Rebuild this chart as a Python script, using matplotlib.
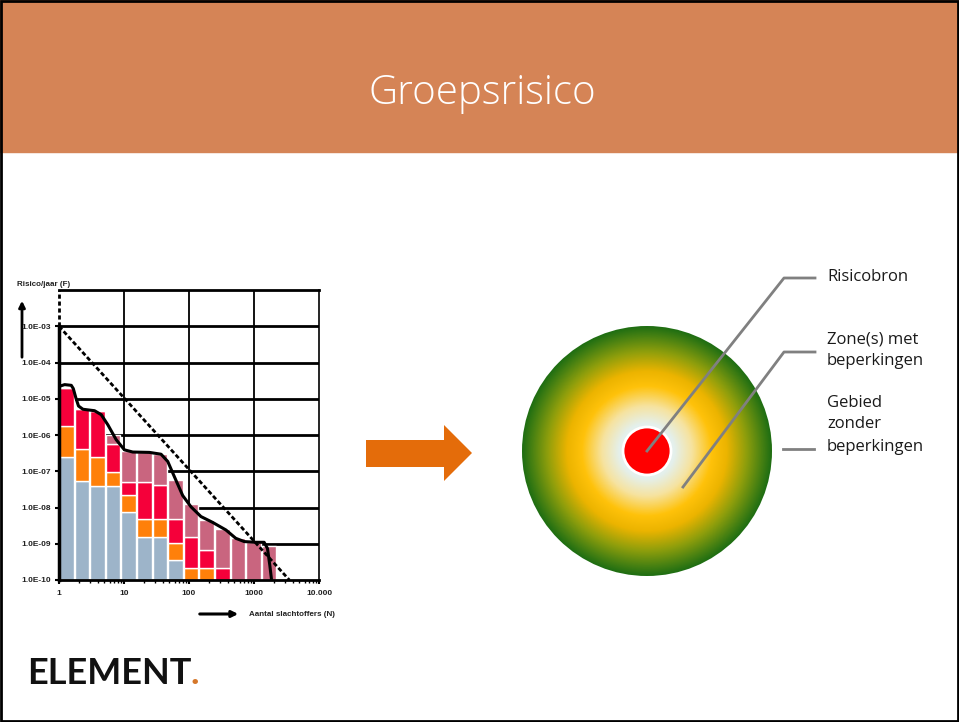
import numpy as np
import matplotlib
matplotlib.use("Agg")
from matplotlib import pyplot as plt
from matplotlib.patches import Rectangle, Circle, Polygon
from matplotlib.colors import LinearSegmentedColormap
from matplotlib.ticker import FixedLocator, LogLocator, NullFormatter

# ---- data read from the FN-curve (log10 values) ----
bin_start = [0.0, 0.24, 0.48, 0.72, 0.96, 1.20, 1.44, 1.68, 1.92, 2.16, 2.40, 2.64, 2.88, 3.12]
bin_width = 0.225
# tops of each stacked layer (log10 F); bottom of the chart is -10
blauw  = [-6.62, -7.27, -7.42, -7.42, -8.13, -8.81, -8.81, -9.45, -10.0, -10.0, -10.0, -10.0, -10.0, -10.0]
oranje = [-5.76, -6.39, -6.61, -7.03, -7.65, -8.32, -8.32, -8.99, -9.66, -9.66, -10.0, -10.0, -10.0, -10.0]
rood   = [-4.70, -5.29, -5.35, -6.25, -7.30, -7.29, -7.38, -8.32, -8.81, -9.18, -9.68, -10.0, -10.0, -10.0]
roze   = [-4.70, -5.29, -5.35, -6.00, -6.44, -6.48, -6.53, -7.24, -7.90, -8.35, -8.58, -8.85, -8.94, -9.06]

curve_logN = [0, 0.087, 0.189, 0.22, 0.26, 0.30, 0.368, 0.547, 0.65, 0.752, 0.88, 1.007, 1.135,
              1.391, 1.57, 1.673, 1.775, 1.903, 2.03, 2.184, 2.363, 2.568, 2.72, 2.85,
              3.03, 3.156, 3.207, 3.243, 3.27]
curve_logF = [-4.66, -4.61, -4.63, -4.72, -4.98, -5.20, -5.29, -5.33, -5.44, -5.72, -6.13, -6.41,
              -6.47, -6.48, -6.53, -6.73, -7.15, -7.67, -7.98, -8.25, -8.41, -8.62, -8.85,
              -8.94, -8.96, -8.96, -9.13, -9.59, -10.0]

# orientatiewaarde
ow_N = [1, 3500]
ow_F = [1e-3, 1e-10]

y_ticks = [1e-10, 1e-9, 1e-8, 1e-7, 1e-6, 1e-5, 1e-4, 1e-3]
y_labels = ['1.0E-10', '1.0E-09', '1.0E-08', '1.0E-07', '1.0E-06', '1.0E-05', '1.0E-04', '1.0E-03']
x_ticks = [1, 10, 100, 1000, 10000]
x_labels = ['1', '10', '100', '1000', '10.000']

W, H = 959, 722
fig = plt.figure(figsize=(W / 100, H / 100), dpi=100)

# ---- slide background in pixel coords ----
bg = fig.add_axes([0, 0, 1, 1])
bg.set_xlim(0, W)
bg.set_ylim(H, 0)
bg.axis('off')
bg.add_patch(Rectangle((0, 0), W, 152, color='#D58456', zorder=1))
bg.add_patch(Rectangle((1, 1), W - 2, H - 2, fill=False, ec='black', lw=2, zorder=5))
bg.text(482, 94, 'Groepsrisico', color='white', fontsize=29, family='Open Sans',
        weight='light', ha='center', va='center', zorder=3)

# logo
bg.text(27, 673, 'ELEMENT', fontsize=26, family='Lato', weight='bold',
        ha='left', va='center', color='#111111')
bg.text(191, 673, '.', fontsize=26, family='Lato', weight='bold',
        ha='left', va='center', color='#D5772A')

# orange arrow
bg.add_patch(Polygon([(366, 440), (444, 440), (444, 425), (472, 453), (444, 481),
                      (444, 467), (366, 467)], closed=True, color='#E46C0A', lw=0))

# radial gradient circle
cx, cy, R = 647, 451, 125
cmap = LinearSegmentedColormap.from_list('zone', [
    (0.0, '#F4FAFA'), (0.22, '#E4F0EC'), (0.36, '#F6E3A0'), (0.52, '#FFC20A'),
    (0.64, '#ECB400'), (0.80, '#8E9E0C'), (0.92, '#4A8212'), (1.0, '#1F6E12')])
g = np.linspace(-1, 1, 400)
gx, gy = np.meshgrid(g, g)
rr = np.clip(np.sqrt(gx ** 2 + gy ** 2), 0, 1)
im = bg.imshow(rr, cmap=cmap, vmin=0, vmax=1, extent=(cx - R, cx + R, cy + R, cy - R),
               aspect='auto', zorder=2, interpolation='bilinear')
im.set_clip_path(Circle((cx, cy), R, transform=bg.transData))
bg.set_xlim(0, W)
bg.set_ylim(H, 0)
bg.add_patch(Circle((cx, cy), 24, fc='#FF0000', ec='white', lw=2, zorder=3))

grey = '#808080'
bg.plot([cx, 784, 815], [cy, 278, 278], color=grey, lw=2, zorder=4)
bg.plot([683, 784, 815], [487, 352, 352], color=grey, lw=2, zorder=4)
bg.plot([783, 814], [449, 449], color=grey, lw=2, zorder=4)
for lab, ty in [('Risicobron', 277), ('Zone(s) met', 340), ('beperkingen', 361),
                ('Gebied', 403), ('zonder', 424), ('beperkingen', 447)]:
    bg.text(827, ty, lab, fontsize=12, family='Open Sans', ha='left', va='center',
            color='#1a1a1a', zorder=4)

# ---- FN chart ----
ax = fig.add_axes([59 / W, 1 - 580 / H, 260 / W, 290 / H])
ax.set_xscale('log')
ax.set_yscale('log')
ax.set_xlim(1, 1e4)
ax.set_ylim(1e-10, 1e-2)

for e in range(-9, -2):
    ax.axhline(10.0 ** e, color='black', lw=2, zorder=1)
for n in [10, 100, 1000]:
    ax.axvline(n, color='black', lw=1.3, zorder=1)

left = 10 ** np.array(bin_start)
width = 10 ** (np.array(bin_start) + bin_width) - left
layers = [(blauw, '#9DB4C9'), (oranje, '#FF800A'), (rood, '#F5003A'), (roze, '#C9657F')]
prev = np.full(len(bin_start), -10.0)
for vals, col in layers:
    top = np.array(vals)
    ax.bar(left, 10 ** top - 10 ** prev, bottom=10 ** prev, width=width, align='edge',
           color=col, ec='white', lw=1, zorder=2)
    prev = top

ax.plot(ow_N, ow_F, color='black', lw=2, ls=(0, (1.6, 0.9)), zorder=3)
ax.plot(10 ** np.array(curve_logN), 10 ** np.array(curve_logF), color='black', lw=2.2,
        zorder=3, solid_capstyle='butt', solid_joinstyle='round')

ax.spines['top'].set_linewidth(2)
ax.spines['right'].set_linewidth(1.2)
ax.spines['bottom'].set_linewidth(2)
ax.spines['left'].set_visible(False)
ax.axvline(1, ymin=0, ymax=0.875, color='black', lw=2.5, zorder=4, clip_on=False)
ax.axvline(1, ymin=0.875, ymax=1, color='black', lw=2, ls=(0, (1.5, 1)), zorder=4, clip_on=False)

ax.yaxis.set_major_locator(FixedLocator(y_ticks))
ax.set_yticklabels(y_labels)
ax.yaxis.set_minor_locator(FixedLocator([]))
ax.xaxis.set_major_locator(FixedLocator(x_ticks))
ax.set_xticklabels(x_labels)
ax.xaxis.set_minor_locator(LogLocator(base=10, subs=np.arange(2, 10)))
ax.xaxis.set_minor_formatter(NullFormatter())
ax.tick_params(axis='both', which='major', labelsize=6, colors='black', width=1.5, length=3)
ax.tick_params(axis='x', which='minor', length=2, width=1)
ax.tick_params(axis='x', pad=4)
ax.tick_params(axis='y', pad=3)
for lb in ax.get_xticklabels() + ax.get_yticklabels():
    lb.set_fontweight('bold')
    lb.set_family('Liberation Sans')
    lb.set_color('#222222')

bg.text(17, 284, 'Risico/jaar (F)', fontsize=5.8, weight='bold', family='Liberation Sans',
        ha='left', va='center', color='#222222')
bg.annotate('', xy=(22, 298), xytext=(22, 360),
            arrowprops=dict(arrowstyle='-|>', color='black', lw=2, mutation_scale=9))
bg.annotate('', xy=(241, 614), xytext=(197, 614),
            arrowprops=dict(arrowstyle='-|>', color='black', lw=2.2, mutation_scale=9))
bg.text(249, 615, 'Aantal slachtoffers (N)', fontsize=5.8, weight='bold',
        family='Liberation Sans', ha='left', va='center', color='#222222')

fig.savefig('out.png', dpi=100)
